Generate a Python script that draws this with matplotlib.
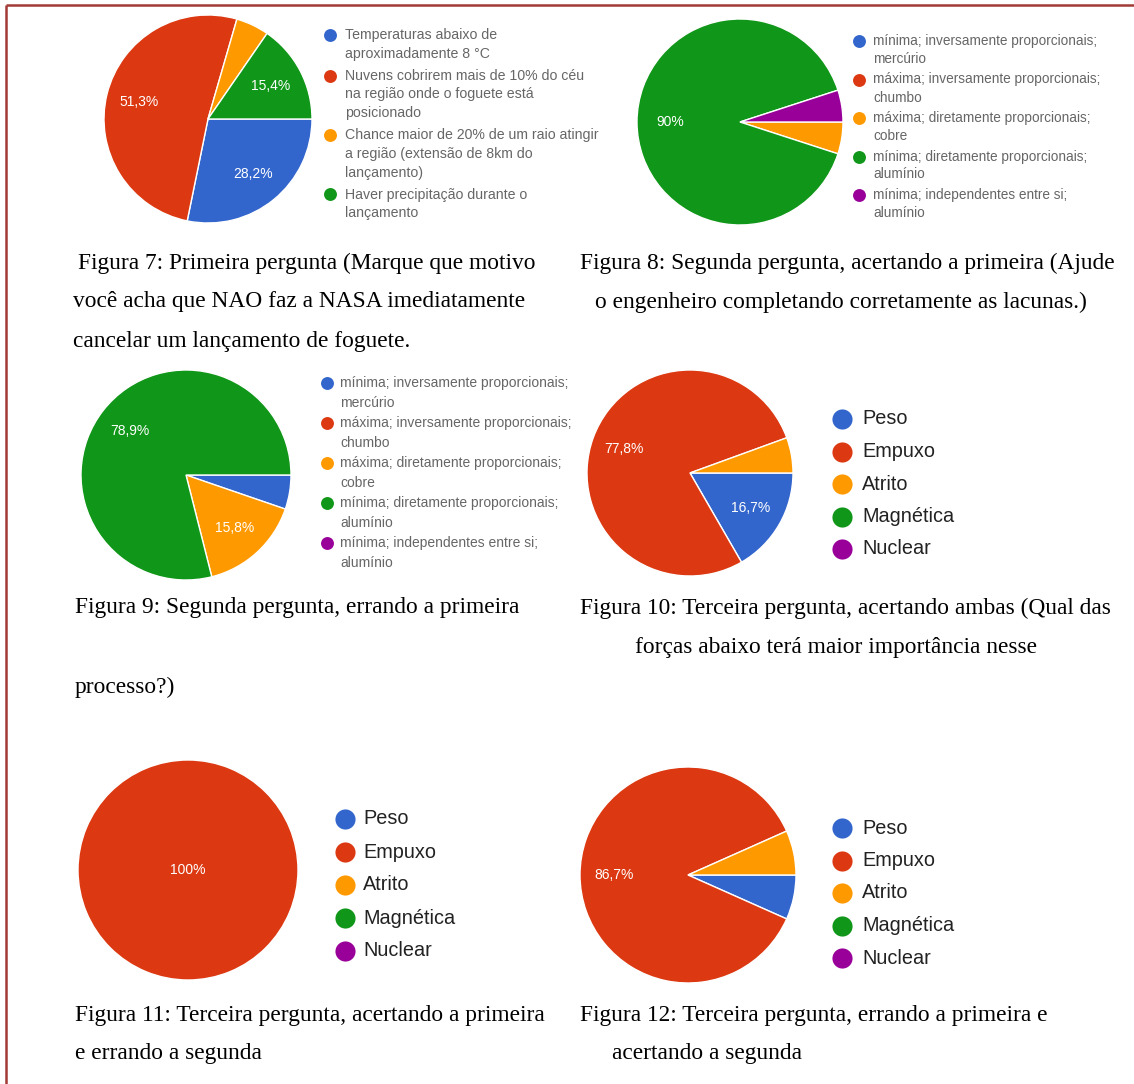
import matplotlib
matplotlib.use('Agg')
import matplotlib.pyplot as plt

plt.rcParams['font.family'] = ['Liberation Sans', 'DejaVu Sans']

W, H = 1134, 1084

# cores padrão dos gráficos do Google Forms
cores = ['#3366CC', '#DC3912', '#FF9900', '#109618', '#990099']

motivos = [
    'Temperaturas abaixo de\naproximadamente 8 °C',
    'Nuvens cobrirem mais de 10% do céu\nna região onde o foguete está\nposicionado',
    'Chance maior de 20% de um raio atingir\na região (extensão de 8km do\nlançamento)',
    'Haver precipitação durante o\nlançamento',
]
lacunas = [
    'mínima; inversamente proporcionais;\nmercúrio',
    'máxima; inversamente proporcionais;\nchumbo',
    'máxima; diretamente proporcionais;\ncobre',
    'mínima; diretamente proporcionais;\nalumínio',
    'mínima; independentes entre si;\nalumínio',
]
forcas = ['Peso', 'Empuxo', 'Atrito', 'Magnética', 'Nuclear']

# número de respostas por alternativa
fig7 = [11, 20, 2, 6]
fig8 = [0, 0, 1, 18, 1]
fig9 = [1, 0, 3, 15, 0]
fig10 = [3, 14, 1, 0, 0]
fig11 = [0, 1, 0, 0, 0]
fig12 = [1, 13, 1, 0, 0]

legendas = [
    (78, 263, 'Figura 7: Primeira pergunta (Marque que motivo'),
    (73, 302, 'você acha que NAO faz a NASA imediatamente'),
    (73, 342, 'cancelar um lançamento de foguete.'),
    (580, 263, 'Figura 8: Segunda pergunta, acertando a primeira (Ajude'),
    (595, 302, 'o engenheiro completando corretamente as lacunas.)'),
    (75, 608, 'Figura 9: Segunda pergunta, errando a primeira'),
    (75, 687, 'processo?)'),
    (580, 608, 'Figura 10: Terceira pergunta, acertando ambas (Qual das'),
    (635, 647, 'forças abaixo terá maior importância nesse'),
    (75, 1016, 'Figura 11: Terceira pergunta, acertando a primeira'),
    (75, 1054, 'e errando a segunda'),
    (580, 1016, 'Figura 12: Terceira pergunta, errando a primeira e'),
    (612, 1054, 'acertando a segunda'),
]

fig = plt.figure(figsize=(W / 100, H / 100), dpi=100)
fundo = fig.add_axes([0, 0, 1, 1])
fundo.set_xlim(0, W)
fundo.set_ylim(H, 0)
fundo.axis('off')

# moldura (só topo e esquerda)
fundo.plot([6, 1134], [5, 5], color='#A23A35', lw=1.8, solid_capstyle='butt')
fundo.plot([6, 6], [5, 1084], color='#A23A35', lw=1.8, solid_capstyle='butt')


def fmt_pct(pct):
    if pct < 7:
        return ''
    s = f'{pct:.1f}'.replace('.', ',')
    if s.endswith(',0'):
        s = s[:-2]
    return s + '%'


def pizza(cx, cy, r, contagens, pctdist=0.68):
    ax = fig.add_axes([(cx - r) / W, 1 - (cy + r) / H, 2 * r / W, 2 * r / H])
    vals = [v for v in contagens if v > 0]
    cols = [c for v, c in zip(contagens, cores) if v > 0]
    ax.pie(vals, colors=cols, startangle=0, counterclock=False, radius=1,
           autopct=fmt_pct, pctdistance=pctdist,
           wedgeprops=dict(edgecolor='white', linewidth=1),
           textprops=dict(color='white', fontsize=10))
    ax.set_xlim(-1, 1)
    ax.set_ylim(-1, 1)
    ax.axis('off')


def legenda_pequena(xm, xt, y0, itens, lh, gap, fs):
    y = y0
    for i, item in enumerate(itens):
        fundo.plot(xm, y, 'o', ms=9.3, color=cores[i], mec='none')
        for j, linha in enumerate(item.split('\n')):
            fundo.text(xt, y + j * lh, linha, fontsize=fs, color='#666666',
                       va='center', ha='left')
        y += len(item.split('\n')) * lh + gap


def legenda_grande(xm, xt, y0, passo):
    for i, nome in enumerate(forcas):
        y = y0 + i * passo
        fundo.plot(xm, y, 'o', ms=14.5, color=cores[i], mec='none')
        fundo.text(xt, y, nome, fontsize=14.3, color='#222222', va='center', ha='left')


pizza(208, 119, 104, fig7)
legenda_pequena(330, 345, 35, motivos, 18.7, 3.3, 10.2)

pizza(740, 122, 103, fig8)
legenda_pequena(859, 873, 41, lacunas, 18, 2.5, 9.8)

pizza(186, 475, 105, fig9)
legenda_pequena(327, 340, 383, lacunas, 20, 0, 10.0)

pizza(690, 473, 103, fig10)
legenda_grande(842, 862, 419, 32.5)

pizza(188, 870, 110, fig11, pctdist=0)
legenda_grande(345, 363, 819, 33)

pizza(688, 875, 108, fig12)
legenda_grande(842, 862, 828, 32.5)

for x, y, txt in legendas:
    fundo.text(x, y, txt, fontsize=16.8, family='Liberation Serif',
               color='black', va='center', ha='left')

fig.savefig('out.png', dpi=100)
